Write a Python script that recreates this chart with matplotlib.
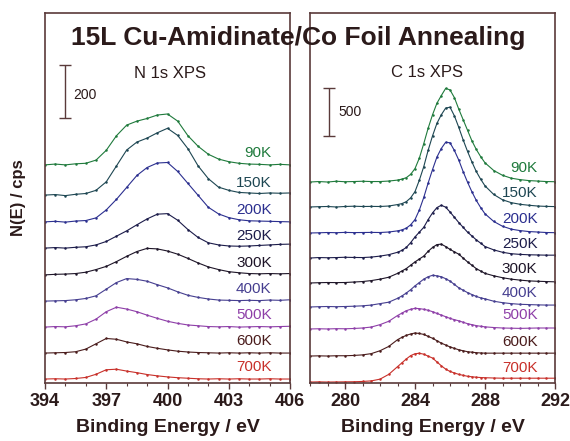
import matplotlib
matplotlib.use("Agg")
import matplotlib.pyplot as plt
from matplotlib.ticker import MultipleLocator

plt.rcParams['font.family'] = ['Liberation Sans', 'DejaVu Sans']

temps = ["90K", "150K", "200K", "250K", "300K", "400K", "500K", "600K", "700K"]
colors = ["#1f7a3c", "#1d4652", "#2b2f8f", "#1c1c4a", "#1e1528",
          "#463f90", "#8e3fa8", "#4a1c1c", "#c8302a"]

# ---- N 1s (binding energy, eV) ----
n_energy = [394, 394.5, 395, 395.5, 396, 396.5, 397, 397.5, 398, 398.5, 399, 399.5,
            400, 400.5, 401, 401.5, 402, 402.5, 403, 403.5, 404, 404.5, 405, 405.5, 406]
n_offset = [823, 709, 608, 509, 408, 309, 211, 113, 15]
n_90 = [0, 3, 0, 4, 6, 18, 55, 110, 150, 165, 175, 188, 192, 165, 110, 70, 40, 22, 12, 6, 3, 2, 0, 2, 0]
n_150 = [0, 2, -2, 3, 6, 18, 50, 110, 170, 200, 215, 235, 252, 225, 175, 110, 62, 30, 18, 10, 8, 6, 8, 7, 8]
n_200 = [0, 2, -1, 3, 5, 15, 45, 85, 130, 175, 205, 222, 224, 190, 145, 100, 55, 30, 16, 8, 4, 3, 2, 1, 0]
n_250 = [0, 2, 0, 3, 5, 12, 25, 45, 65, 88, 110, 128, 130, 105, 70, 40, 20, 12, 8, 7, 8, 10, 12, 14, 15]
n_300 = [0, 2, 3, 5, 10, 20, 32, 50, 70, 88, 100, 98, 90, 78, 62, 45, 30, 20, 12, 8, 5, 4, 5, 4, 5]
n_400 = [0, 1, 2, 5, 10, 20, 45, 70, 85, 82, 75, 62, 50, 35, 22, 14, 8, 4, 3, 2, 3, 2, 4, 3, 5]
n_500 = [0, 2, 1, 5, 12, 30, 58, 75, 68, 58, 45, 33, 22, 14, 8, 5, 2, 1, 2, 0, 1, 2, 1, 2, 3]
n_600 = [0, 1, 2, 5, 15, 35, 55, 52, 42, 35, 25, 18, 12, 7, 4, 2, 1, 0, 1, 0, 1, 0, 1, 0, 0]
n_700 = [0, 1, 0, 2, 6, 18, 35, 37, 30, 24, 17, 12, 8, 5, 3, 1, 0, 1, 0, 1, 0, 0, 1, 0, 0]
n_spectra = [n_90, n_150, n_200, n_250, n_300, n_400, n_500, n_600, n_700]

# ---- C 1s (binding energy, eV) ----
c_energy = [278, 278.5, 279, 279.5, 280, 280.5, 281, 281.5, 282, 282.5, 283,
            283.25, 283.5, 283.75, 284, 284.25, 284.5, 284.75, 285, 285.25, 285.5,
            285.75, 286, 286.25, 286.5, 286.75, 287, 287.25, 287.5, 287.75, 288,
            288.5, 289, 289.5, 290, 290.5, 291, 291.5, 292]
c_offset = [2094, 1834, 1563, 1302, 1042, 792, 563, 281, 10]
c_90 = [0, 5, 0, 8, 3, 5, 8, 5, 5, 10, 20,
        30, 45, 80, 140, 250, 400, 560, 700, 820, 900, 975, 960, 880, 760, 650, 540, 430, 340, 265, 200,
        120, 70, 40, 25, 15, 10, 5, 3]
c_150 = [0, 3, 5, 0, 5, 8, 5, 6, 5, 10, 25,
         35, 55, 95, 160, 280, 420, 590, 740, 870, 960, 1030, 1040, 950, 830, 700, 580, 470, 370, 290, 220,
         130, 75, 45, 28, 18, 10, 6, 4]
c_200 = [0, 2, 5, 3, 6, 4, 5, 6, 5, 10, 22,
         32, 50, 85, 140, 240, 370, 520, 660, 790, 880, 945, 940, 860, 760, 640, 530, 430, 340, 265, 200,
         120, 70, 40, 25, 15, 10, 5, 3]
c_250 = [0, 5, 3, 5, 8, 6, 5, 10, 20, 35, 60,
         80, 110, 160, 220, 270, 320, 400, 470, 525, 550, 530, 480, 425, 370, 320, 270, 230, 190, 155, 120,
         85, 60, 45, 38, 34, 32, 30, 30]
c_300 = [0, 3, 5, 4, 5, 10, 15, 25, 40, 60, 100,
         125, 150, 185, 220, 250, 280, 330, 370, 400, 405, 380, 350, 325, 300, 260, 220, 185, 150, 125, 100,
         75, 55, 40, 30, 22, 18, 15, 12]
c_400 = [0, 3, 5, 3, 5, 8, 12, 20, 35, 50, 90,
         115, 145, 180, 220, 255, 290, 315, 330, 325, 315, 295, 270, 235, 200, 175, 150, 130, 110, 95, 85,
         60, 45, 35, 28, 25, 22, 20, 20]
c_500 = [0, 2, 0, 3, 2, 5, 10, 20, 45, 80, 140,
         165, 190, 205, 215, 212, 205, 195, 180, 162, 145, 128, 110, 97, 85, 70, 55, 45, 35, 28, 22,
         15, 10, 8, 6, 8, 10, 10, 10]
c_600 = [0, 2, 0, 3, 3, 6, 12, 25, 55, 100, 170,
         195, 215, 230, 240, 235, 225, 205, 185, 160, 135, 115, 95, 80, 65, 55, 45, 40, 35, 32, 30,
         30, 30, 30, 30, 30, 30, 30, 30]
c_700 = [0, 2, 0, 1, 2, 3, 6, 12, 30, 80, 160,
         200, 240, 275, 295, 300, 290, 270, 250, 210, 170, 135, 110, 95, 80, 70, 60, 55, 50, 47, 45,
         42, 40, 40, 40, 40, 40, 40, 40]
c_spectra = [c_90, c_150, c_200, c_250, c_300, c_400, c_500, c_600, c_700]

n_ticks = [394, 397, 400, 403, 406]
c_ticks = [280, 284, 288, 292]

frame_col = "#5a3a3a"
text_col = "#2b1a1a"

fig = plt.figure(figsize=(5.70, 4.41), dpi=100)
axL = fig.add_axes([45/570, 1-383/441, 245/570, 370/441])
axR = fig.add_axes([310/570, 1-383/441, 245/570, 370/441])


def draw(ax, energy, spectra, offsets, ylim, lab_x, lab_dy, ticks):
    for vals, off, col, t in zip(spectra, offsets, colors, temps):
        y = [v + off for v in vals]
        ax.plot(energy, y, color=col, lw=0.8)
        ax.plot(energy, y, ls='none', marker='o', ms=1.8, color=col, mec='none')
        ax.text(lab_x, off + lab_dy, t, color=col, fontsize=11, ha='right', va='center')
    ax.set_xlim(energy[0], energy[-1])
    ax.set_ylim(*ylim)
    ax.set_yticks([])
    ax.set_xticks(ticks)
    ax.xaxis.set_minor_locator(MultipleLocator(1))
    for s in ax.spines.values():
        s.set_color(frame_col)
        s.set_linewidth(1.2)
    ax.tick_params(axis='x', direction='out', length=4, width=1, color=frame_col,
                   labelsize=13, labelcolor=text_col, pad=3)
    ax.tick_params(axis='x', which='minor', direction='out', length=2.5, width=0.8, color=frame_col)
    for lbl in ax.get_xticklabels():
        lbl.set_fontweight('bold')
    ax.set_xlabel("Binding Energy / eV", fontsize=14, fontweight='bold', color=text_col, labelpad=7)


draw(axL, n_energy, n_spectra, n_offset, (0, 1396), 405.1, 45, n_ticks)
draw(axR, c_energy, c_spectra, c_offset, (0, 3855), 291.0, 145, c_ticks)

# scale bars
axL.errorbar([395.0], [1100], yerr=[[100], [100]], color=frame_col, capsize=4, lw=1, capthick=1)
axL.text(395.4, 1087, "200", fontsize=10, color=text_col, ha='left', va='center')
axR.errorbar([279.1], [2824], yerr=[[250], [250]], color=frame_col, capsize=4, lw=1, capthick=1)
axR.text(279.6, 2824, "500", fontsize=10, color=text_col, ha='left', va='center')

axL.text(400.1, 1166, "N 1s XPS", fontsize=12, color=text_col, ha='center', va='center')
axR.text(284.7, 3230, "C 1s XPS", fontsize=12, color=text_col, ha='center', va='center')

fig.text(298/570, 1-38/441, "15L Cu-Amidinate/Co Foil Annealing", fontsize=19,
         fontweight='bold', color=text_col, ha='center', va='center', zorder=10)
fig.text(19/570, 1-198/441, "N(E) / cps", fontsize=12, fontweight='bold', color=text_col,
         rotation=90, ha='center', va='center')

fig.savefig("out.png", dpi=100)
